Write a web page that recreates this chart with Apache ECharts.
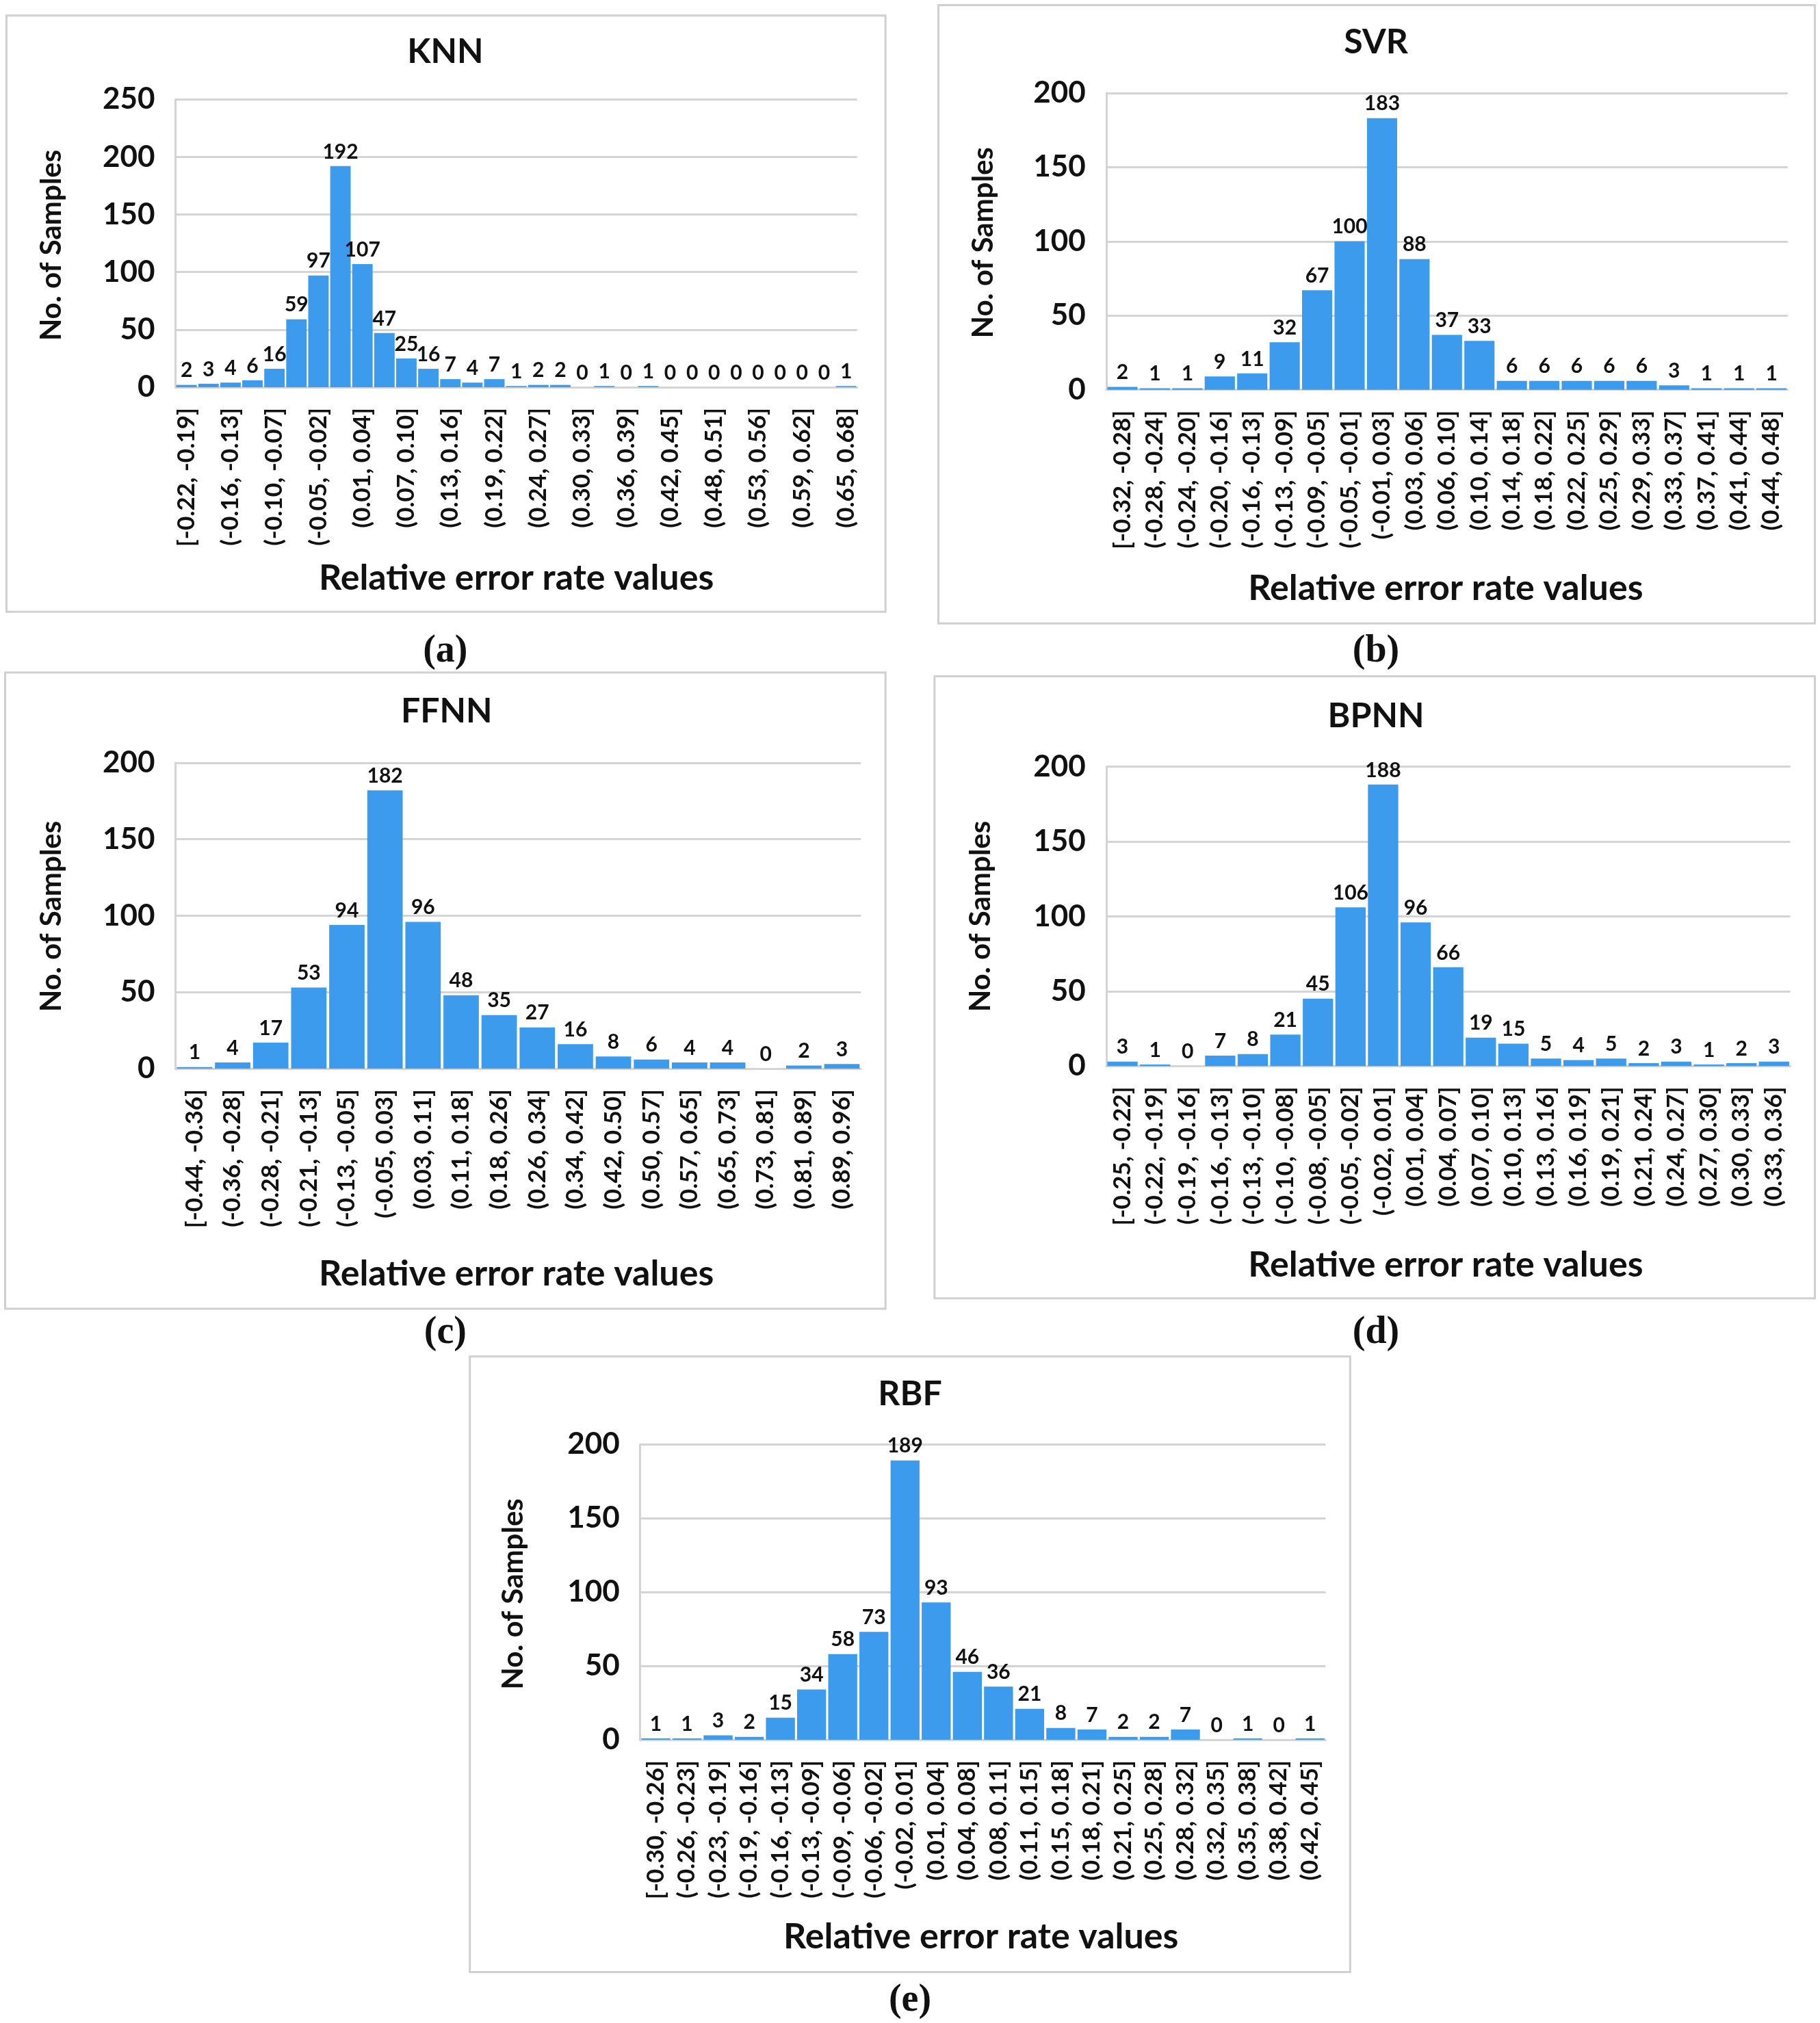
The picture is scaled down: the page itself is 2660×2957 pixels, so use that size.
<!DOCTYPE html>
<html><head><meta charset="utf-8">
<script src="https://cdn.jsdelivr.net/npm/echarts@6/dist/echarts.min.js"></script>
<style>html,body{margin:0;padding:0;background:#fff}#c{width:2660px;height:2957px}</style>
</head><body><div id="c"></div>
<script>
// ---------- data ----------
const knnCats = ['[-0.22, -0.19]','(-0.19, -0.16]','(-0.16, -0.13]','(-0.13, -0.10]','(-0.10, -0.07]','(-0.07, -0.05]','(-0.05, -0.02]','(-0.02, 0.01]','(0.01, 0.04]','(0.04, 0.07]','(0.07, 0.10]','(0.10, 0.13]','(0.13, 0.16]','(0.16, 0.19]','(0.19, 0.22]','(0.22, 0.24]','(0.24, 0.27]','(0.27, 0.30]','(0.30, 0.33]','(0.33, 0.36]','(0.36, 0.39]','(0.39, 0.42]','(0.42, 0.45]','(0.45, 0.48]','(0.48, 0.51]','(0.51, 0.53]','(0.53, 0.56]','(0.56, 0.59]','(0.59, 0.62]','(0.62, 0.65]','(0.65, 0.68]'];
const knnVals = [2,3,4,6,16,59,97,192,107,47,25,16,7,4,7,1,2,2,0,1,0,1,0,0,0,0,0,0,0,0,1];

const svrCats = ['[-0.32, -0.28]','(-0.28, -0.24]','(-0.24, -0.20]','(-0.20, -0.16]','(-0.16, -0.13]','(-0.13, -0.09]','(-0.09, -0.05]','(-0.05, -0.01]','(-0.01, 0.03]','(0.03, 0.06]','(0.06, 0.10]','(0.10, 0.14]','(0.14, 0.18]','(0.18, 0.22]','(0.22, 0.25]','(0.25, 0.29]','(0.29, 0.33]','(0.33, 0.37]','(0.37, 0.41]','(0.41, 0.44]','(0.44, 0.48]'];
const svrVals = [2,1,1,9,11,32,67,100,183,88,37,33,6,6,6,6,6,3,1,1,1];

const ffnnCats = ['[-0.44, -0.36]','(-0.36, -0.28]','(-0.28, -0.21]','(-0.21, -0.13]','(-0.13, -0.05]','(-0.05, 0.03]','(0.03, 0.11]','(0.11, 0.18]','(0.18, 0.26]','(0.26, 0.34]','(0.34, 0.42]','(0.42, 0.50]','(0.50, 0.57]','(0.57, 0.65]','(0.65, 0.73]','(0.73, 0.81]','(0.81, 0.89]','(0.89, 0.96]'];
const ffnnVals = [1,4,17,53,94,182,96,48,35,27,16,8,6,4,4,0,2,3];

const bpnnCats = ['[-0.25, -0.22]','(-0.22, -0.19]','(-0.19, -0.16]','(-0.16, -0.13]','(-0.13, -0.10]','(-0.10, -0.08]','(-0.08, -0.05]','(-0.05, -0.02]','(-0.02, 0.01]','(0.01, 0.04]','(0.04, 0.07]','(0.07, 0.10]','(0.10, 0.13]','(0.13, 0.16]','(0.16, 0.19]','(0.19, 0.21]','(0.21, 0.24]','(0.24, 0.27]','(0.27, 0.30]','(0.30, 0.33]','(0.33, 0.36]'];
const bpnnVals = [3,1,0,7,8,21,45,106,188,96,66,19,15,5,4,5,2,3,1,2,3];

const rbfCats = ['[-0.30, -0.26]','(-0.26, -0.23]','(-0.23, -0.19]','(-0.19, -0.16]','(-0.16, -0.13]','(-0.13, -0.09]','(-0.09, -0.06]','(-0.06, -0.02]','(-0.02, 0.01]','(0.01, 0.04]','(0.04, 0.08]','(0.08, 0.11]','(0.11, 0.15]','(0.15, 0.18]','(0.18, 0.21]','(0.21, 0.25]','(0.25, 0.28]','(0.28, 0.32]','(0.32, 0.35]','(0.35, 0.38]','(0.38, 0.42]','(0.42, 0.45]'];
const rbfVals = [1,1,3,2,15,34,58,73,189,93,46,36,21,8,7,2,2,7,0,1,0,1];

const titles = ['KNN','SVR','FFNN','BPNN','RBF'];
const captions = ['(a)','(b)','(c)','(d)','(e)'];
const yMax = [250,200,200,200,200];
const labelEvery = [1,0,0,0,0];

// ---------- layout (reference units, scaled) ----------
const S = 2660/1410;
const layout = [
  {frame:[5,12,686,474],   grid:[136,77,664,300],   title:[345,40],   ytitle:[40,190],   xtitle:[400,448],   cap:[345,505]},
  {frame:[727,4,1406,483], grid:[857,72,1385,302],  title:[1066,33],  ytitle:[762,188],  xtitle:[1120,456],  cap:[1066,505]},
  {frame:[4,521,686,1014], grid:[136,591,667,828],  title:[346,551],  ytitle:[40,710],   xtitle:[400,987],   cap:[345,1033]},
  {frame:[724,524,1406,1006],grid:[857,594,1387,826],title:[1066,555], ytitle:[760,710],  xtitle:[1120,980],  cap:[1066,1033]},
  {frame:[364,1051,1046,1528],grid:[496,1119,1027,1348],title:[705,1080],ytitle:[398,1235],xtitle:[760,1501],cap:[705,1550]}
];
const cats = [knnCats, svrCats, ffnnCats, bpnnCats, rbfCats];
const vals = [knnVals, svrVals, ffnnVals, bpnnVals, rbfVals];

const FONT = 'Lato, "Open Sans", sans-serif';
const grids = [], xAxes = [], yAxes = [], series = [], graphics = [];
layout.forEach((L, i) => {
  const [gl, gt, gr, gb] = L.grid.map(v => v * S);
  grids.push({left: gl, top: gt, width: gr - gl, height: gb - gt, containLabel: false});
  xAxes.push({
    type: 'category', gridIndex: i, data: cats[i],
    axisLine: {show: true, lineStyle: {color: '#d4d4d4', width: 3}},
    axisTick: {show: false},
    axisLabel: {rotate: 90, interval: labelEvery[i], margin: 30, fontFamily: FONT, fontWeight: 'bold', fontSize: 35, color: '#111'}
  });
  yAxes.push({
    type: 'value', gridIndex: i, min: 0, max: yMax[i], interval: 50,
    axisLine: {show: true, lineStyle: {color: '#d4d4d4', width: 3}},
    axisTick: {show: false},
    splitLine: {show: true, lineStyle: {color: '#d4d4d4', width: 3}},
    axisLabel: {margin: 30, fontFamily: FONT, fontWeight: 'bold', fontSize: 44, color: '#111'}
  });
  series.push({
    type: 'bar', xAxisIndex: i, yAxisIndex: i, data: vals[i],
    barCategoryGap: '7%',
    itemStyle: {color: '#3d9bee'},
    label: {show: true, position: 'top', distance: 6, fontFamily: FONT, fontWeight: 'bold', fontSize: 30, color: '#111'}
  });
  const [fx1, fy1, fx2, fy2] = L.frame.map(v => v * S);
  graphics.push({type: 'rect', shape: {x: fx1, y: fy1, width: fx2 - fx1, height: fy2 - fy1},
    style: {fill: 'none', stroke: '#d0d0d0', lineWidth: 3}, z: 0});
  const txt = (pos, text, font, rot) => ({
    type: 'text', x: pos[0] * S, y: pos[1] * S, rotation: rot || 0,
    style: {text, font, fill: '#111', textAlign: 'center', textVerticalAlign: 'middle', align: 'center', verticalAlign: 'middle'}
  });
  graphics.push(txt(L.title, titles[i], 'bold 50px ' + FONT));
  graphics.push(txt(L.ytitle, 'No. of Samples', 'bold 42px ' + FONT, Math.PI / 2));
  graphics.push(txt(L.xtitle, 'Relative error rate values', 'bold 52px ' + FONT));
  graphics.push(txt(L.cap, captions[i], 'bold 56px "Liberation Serif", "DejaVu Serif", serif'));
});

const chart = echarts.init(document.getElementById('c'), null, {renderer: 'canvas'});
chart.setOption({
  backgroundColor: '#fff',
  animation: false,
  grid: grids, xAxis: xAxes, yAxis: yAxes, series: series,
  graphic: {elements: graphics}
});
</script></body></html>
